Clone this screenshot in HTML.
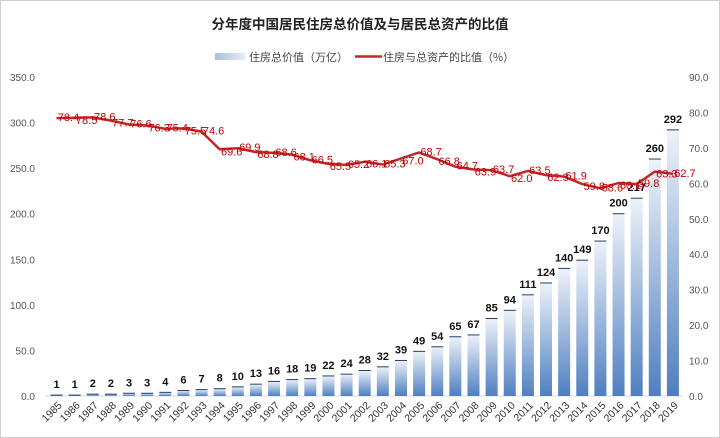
<!DOCTYPE html>
<html><head><meta charset="utf-8">
<style>
html,body{margin:0;padding:0;background:#fff;}
svg{display:block;font-family:"Liberation Sans","Noto Sans CJK SC",sans-serif;}
</style></head>
<body>
<svg id="c" width="720" height="438" xmlns="http://www.w3.org/2000/svg">
<defs>
<linearGradient id="bg" x1="0" y1="0" x2="0" y2="1">
<stop offset="0" stop-color="#eef2f9"/>
<stop offset="1" stop-color="#4f7fc0"/>
</linearGradient>
<linearGradient id="lg" x1="0" y1="0" x2="1" y2="0">
<stop offset="0" stop-color="#a9bfdf"/>
<stop offset="1" stop-color="#e6edf6"/>
</linearGradient>
</defs>
<rect x="0.5" y="0.5" width="719" height="437" fill="#fff" stroke="#d0d0d0"/>
<text x="360" y="29" text-anchor="middle" font-size="13.5" font-weight="bold" fill="#222" font-family="'Noto Sans CJK SC',sans-serif">分年度中国居民住房总价值及与居民总资产的比值</text>
<rect x="215" y="53" width="30" height="7" fill="url(#lg)"/>
<text x="249" y="61" font-size="11" fill="#444" font-family="'Noto Sans CJK SC',sans-serif">住房总价值（万亿）</text>
<line x1="355" y1="56.5" x2="382" y2="56.5" stroke="#c0282c" stroke-width="2.5"/>
<text x="383" y="61" font-size="11" fill="#444" font-family="'Noto Sans CJK SC',sans-serif">住房与总资产的比值（%）</text>
<g id="g"></g>
</svg>
<script>
var bars=[1,1,2,2,3,3,4,6,7,8,10,13,16,18,19,22,24,28,32,39,49,54,65,67,85,94,111,124,140,149,170,200,217,260,292];
var line=[78.4,78.5,78.6,77.7,76.6,76.3,75.4,75.5,74.6,69.6,69.9,68.8,68.6,68.1,66.5,65.5,65.2,66.1,65.3,67.0,68.7,66.8,64.7,63.9,63.7,62.0,63.5,62.3,61.9,59.8,58.6,60.1,59.8,63.3,62.7];
var y0=396,y1=77,h=y0-y1;
function yl(v){return y0-v/350*h;}
function yr(v){return y0-v/90*h;}
function cx(i){return 56.5+i*18.13;}
var s='';
s+='<line x1="45" y1="'+y0+'" x2="683" y2="'+y0+'" stroke="#d9d9d9"/>';
for(var k=0;k<=7;k++){var v=k*50;s+='<text x="35" y="'+(yl(v)+4)+'" text-anchor="end" font-size="10" fill="#555">'+v.toFixed(1)+'</text>';}
for(var k=0;k<=9;k++){var v=k*10;s+='<text x="689" y="'+(yr(v)+4)+'" font-size="10" fill="#555">'+v.toFixed(1)+'</text>';}
for(var i=0;i<35;i++){var x=cx(i),t=yl(bars[i]);
s+='<rect x="'+(x-6)+'" y="'+t+'" width="12" height="'+(y0-t)+'" fill="url(#bg)"/>';
s+='<line x1="'+(x-6)+'" y1="'+t+'" x2="'+(x+6)+'" y2="'+t+'" stroke="#1f3f6a" stroke-width="1"/>';
s+='<text x="'+x+'" y="'+(t-7)+'" text-anchor="middle" font-size="11" font-weight="bold" fill="#111">'+bars[i]+'</text>';
s+='<text transform="translate('+(x+6)+',406) rotate(-45)" text-anchor="end" font-size="10.5" fill="#333">'+(1985+i)+'</text>';}
var p='';for(var i=0;i<35;i++){p+=(i?'L':'M')+cx(i)+' '+yr(line[i]);}
s+='<path d="'+p+'" fill="none" stroke="#c0282c" stroke-width="2.5" stroke-linejoin="round"/>';
for(var i=0;i<35;i++){s+='<text x="'+(cx(i)+12)+'" y="'+(yr(line[i])+(i%2?6:3))+'" text-anchor="middle" font-size="11" fill="#c00000">'+line[i].toFixed(1)+'</text>';}
document.getElementById('g').innerHTML=s;
</script>
</body></html>
